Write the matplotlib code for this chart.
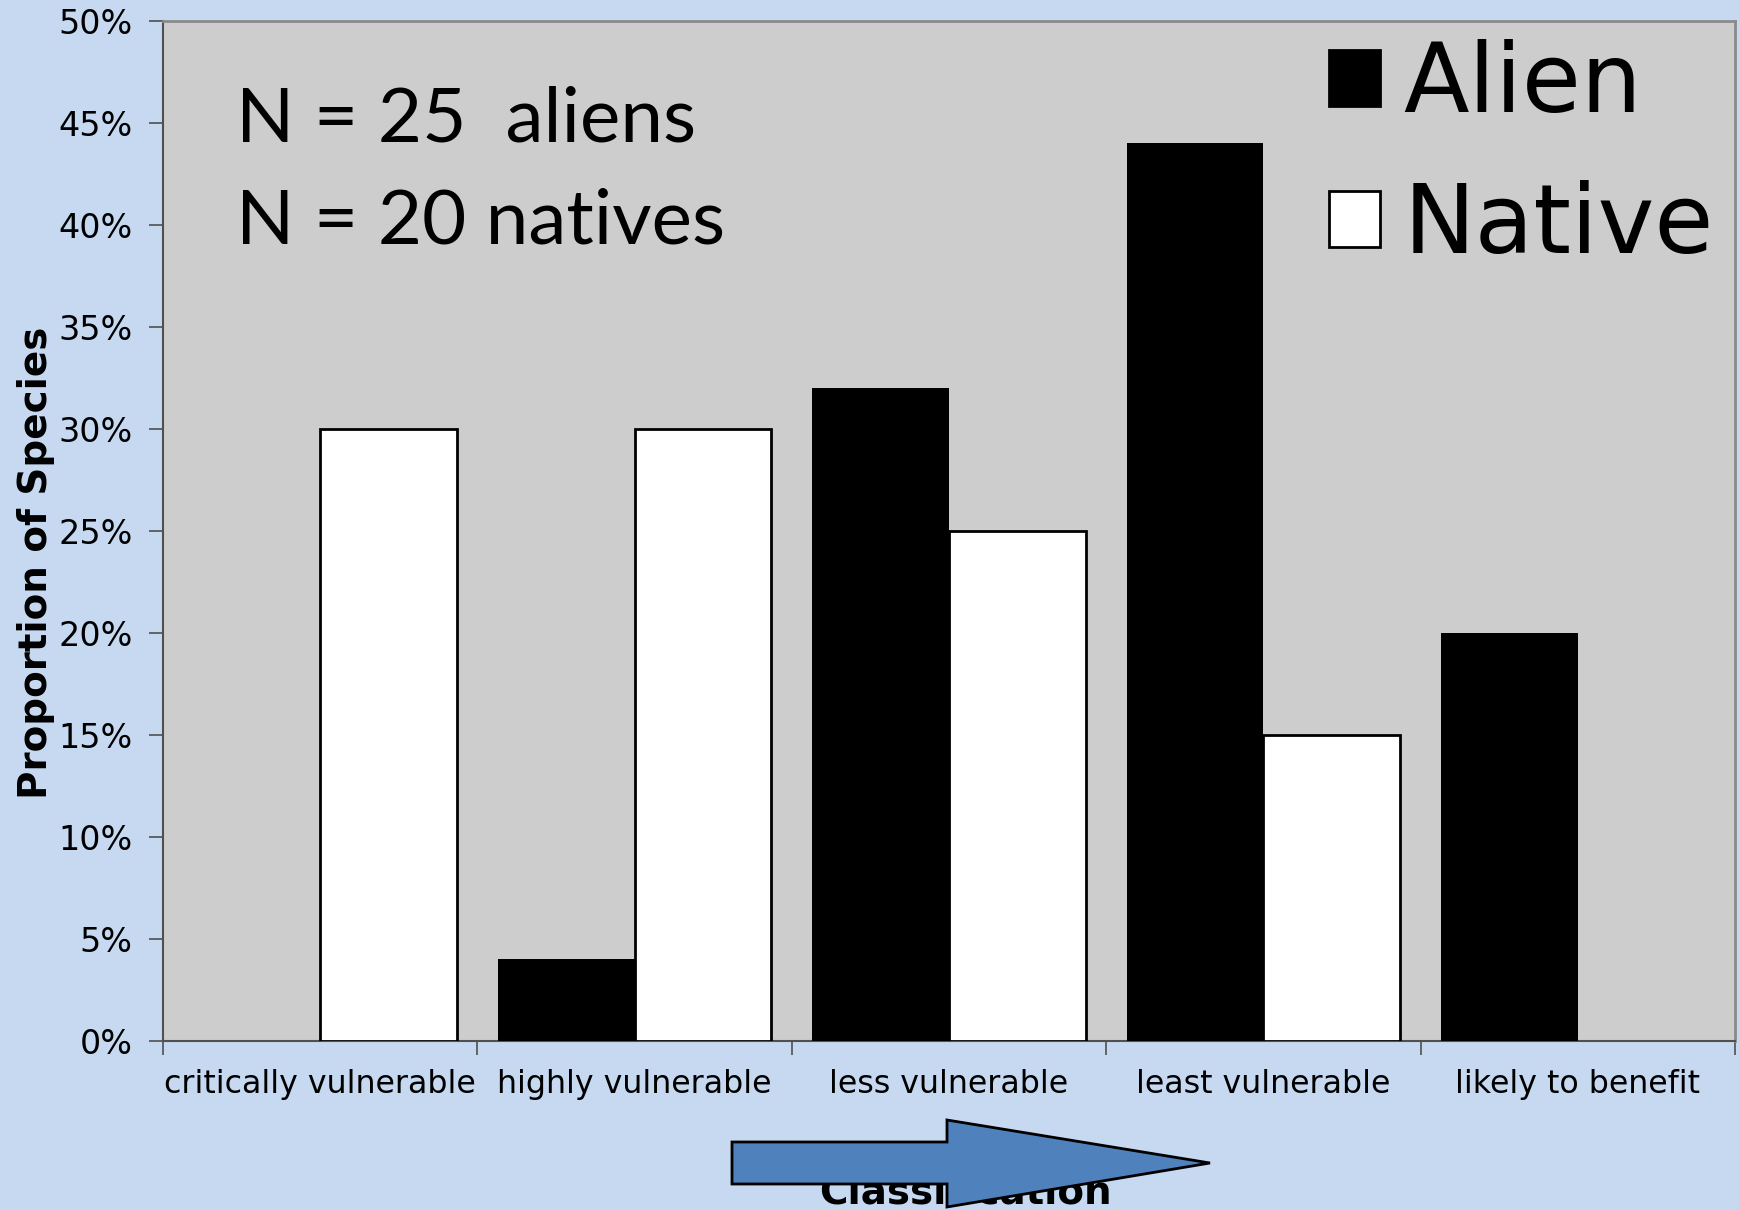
import matplotlib
matplotlib.use("Agg")
import matplotlib.pyplot as plt
import numpy as np
from matplotlib.patches import Patch, Polygon

categories = ["critically vulnerable", "highly vulnerable", "less vulnerable",
              "least vulnerable", "likely to benefit"]
alien = [0, 4, 32, 44, 20]
native = [30, 30, 25, 15, 0]
series_names = ["Alien", "Native"]
yticks = [0, 5, 10, 15, 20, 25, 30, 35, 40, 45, 50]
ytick_labels = [f"{v}%" for v in yticks]

W, H = 1740, 1210
fig = plt.figure(figsize=(W / 100, H / 100), dpi=100)
fig.patch.set_facecolor("#C6D9F1")
ax = fig.add_axes([163 / W, 1 - 1041 / H, (1735 - 163) / W, (1041 - 21) / H])
ax.set_facecolor("#CDCDCD")

x = np.arange(len(categories))
bw = 0.435
ax.bar(x - bw / 2, alien, width=bw, color="black", linewidth=0, zorder=3)
ax.bar(x + bw / 2, native, width=bw, color="white",
       edgecolor=["black" if v > 0 else "none" for v in native], linewidth=2, zorder=3)

ax.set_xlim(-0.5, len(categories) - 0.5)
ax.set_ylim(0, 50)
ax.set_yticks(yticks)
ax.set_yticklabels(ytick_labels, fontsize=24, family="DejaVu Sans")
ax.set_xticks(x)
ax.set_xticklabels(categories, fontsize=22.8, family="DejaVu Sans")
ax.set_xticks(np.arange(-0.5, len(categories)), minor=True)
ax.tick_params(axis="x", which="major", length=0, pad=20)
ax.tick_params(axis="x", which="minor", length=10, width=1.2, color="#505050")
ax.tick_params(axis="y", length=10, width=1.2, color="#505050", pad=12)
for s in ["top", "right"]:
    ax.spines[s].set_color("#8A8A8A")
    ax.spines[s].set_linewidth(2)
ax.spines["left"].set_color("#505050")
ax.spines["left"].set_linewidth(1.5)
ax.spines["bottom"].set_color("#505050")
ax.spines["bottom"].set_linewidth(1.5)

ax.set_ylabel("Proportion of Species", fontsize=28, fontweight="bold", labelpad=2)
ax.yaxis.label.set_y(0.469)

fig.text(965 / W, 1 - 1212 / H, "Classification", fontsize=28, fontweight="bold",
         ha="center", va="bottom")

# arrow
pts_px = [(732, 1142), (947, 1142), (947, 1120), (1210, 1163), (947, 1207), (947, 1184), (732, 1184)]
pts = [(px / W, 1 - py / H) for px, py in pts_px]
fig.patches.append(Polygon(pts, closed=True, facecolor="#4F81BD", edgecolor="black",
                           linewidth=2, transform=fig.transFigure, zorder=10))

ax.text(236 / W, 1 - 141 / H, "N = 25  aliens", transform=fig.transFigure, fontsize=55,
        family="Lato", va="baseline", ha="left")
ax.text(236 / W, 1 - 244 / H, "N = 20 natives", transform=fig.transFigure, fontsize=55,
        family="Lato", va="baseline", ha="left")

handles = [Patch(facecolor="black", edgecolor="black", linewidth=2),
           Patch(facecolor="white", edgecolor="black", linewidth=2)]
leg = ax.legend(handles, series_names, loc="upper right", bbox_to_anchor=(1733 / W, 1 - 20 / H),
                bbox_transform=fig.transFigure, frameon=False, fontsize=69,
                handlelength=0.53, handleheight=0.53, handletextpad=0.25, labelspacing=0.5,
                borderpad=0.2, borderaxespad=0)

fig.savefig("out.png", dpi=100, facecolor=fig.get_facecolor())
